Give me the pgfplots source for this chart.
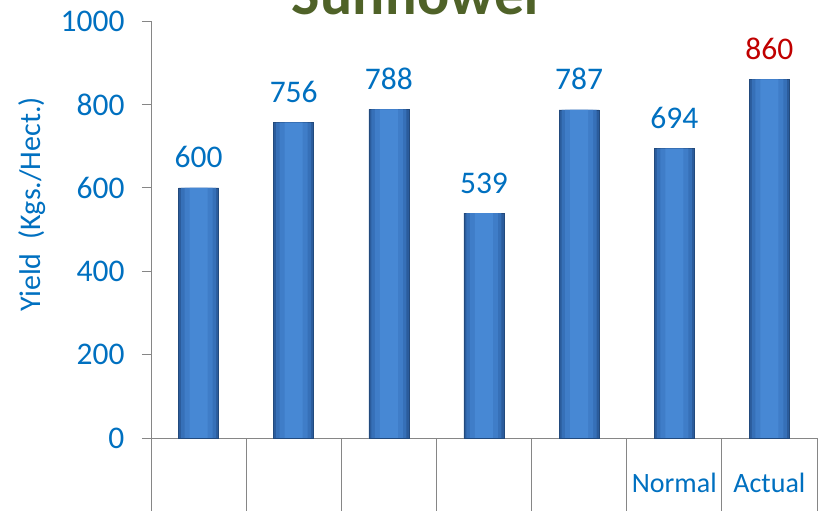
\documentclass[border=0pt]{standalone}
\usepackage{pgfplots}
\pgfplotsset{compat=1.18}
\usepackage{fontspec}
\setmainfont{Carlito}
\definecolor{txtblue}{HTML}{0070C0}
\definecolor{txtred}{HTML}{C00000}
\definecolor{ttlgreen}{HTML}{4F6228}
\definecolor{axgray}{HTML}{868686}
\definecolor{barA}{HTML}{2B5C9C}
\definecolor{barB}{HTML}{3670B8}
\definecolor{barC}{HTML}{3F7DC8}
\definecolor{barD}{HTML}{4788D4}
\begin{document}
\begin{tikzpicture}
\useasboundingbox (-151pt,-73pt) rectangle (672pt,438pt);
\clip (-151pt,-73pt) rectangle (672pt,438pt);
\pgfplotstableread{
x y
0 600
1 756
2 788
3 539
4 787
5 694
6 860
}\yields
\begin{axis}[
  at={(0,0)}, anchor=south west,
  scale only axis, width=666pt, height=417pt,
  xmin=-0.5, xmax=6.5, ymin=0, ymax=1000,
  axis lines*=left,
  axis line style={draw=axgray, line width=0.9pt},
  tick align=outside,
  major tick length=9pt,
  minor tick length=80pt,
  tick style={draw=axgray, line width=0.9pt},
  major x tick style={draw=none},
  xtick={0,...,6},
  xticklabels={{},{},{},{},{},Normal,Actual},
  minor xtick={-0.5,0.5,...,6.5},
  ytick={0,200,...,1000},
  /pgf/number format/assume math mode=true,
  /pgf/number format/1000 sep={},
  ticklabel style={font=\fontsize{31.5}{34}\selectfont, text=txtblue},
  xticklabel style={font=\fontsize{28}{30}\selectfont, anchor=base, yshift=-46pt},
  yticklabel style={xshift=-14pt},
  every axis y label/.style={at={(axis description cs:-0.1787,0.56)}, rotate=90, anchor=center, font=\fontsize{30}{32}\selectfont, text=txtblue},
  ylabel={Yield\ \ (Kgs./Hect.)},
  title={\textbf{Sunflower}},
  every axis title/.style={at={(axis description cs:0.402,1)}, anchor=base, yshift=6pt, font=\fontsize{60}{66}\selectfont\bfseries, text=ttlgreen},
  ybar, bar shift=0pt,
  point meta=y,
  clip=false,
]
\addplot[draw=barA!80!black, line width=0.5pt, fill=barA, bar width=40pt] table[x=x,y=y] {\yields};
\addplot[draw=none, fill=barB, bar width=35pt] table[x=x,y=y] {\yields};
\addplot[draw=none, fill=barC, bar width=28pt] table[x=x,y=y] {\yields};
\addplot[draw=none, fill=barD, bar width=18pt] table[x=x,y=y] {\yields};
\addplot[draw=none, fill=none, bar width=40pt, nodes near coords,
  nodes near coords style={font=\fontsize{31.5}{34}\selectfont, anchor=base, yshift=20pt, text=txtblue}]
  table[x=x,y=y] {
x y
0 600
1 756
2 788
3 539
4 787
5 694
};
\addplot[draw=none, fill=none, bar width=40pt, nodes near coords,
  nodes near coords style={font=\fontsize{31.5}{34}\selectfont, anchor=base, yshift=20pt, text=txtred}]
  coordinates {(6,860)};
\end{axis}
\end{tikzpicture}
\end{document}
